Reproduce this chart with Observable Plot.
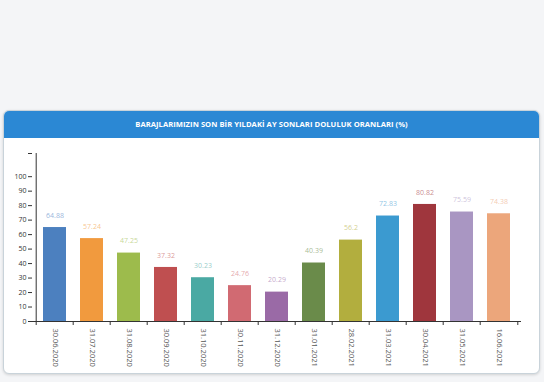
<!DOCTYPE html>
<html><head><meta charset="utf-8">
<script src="https://cdn.jsdelivr.net/npm/d3@7"></script>
<script src="https://cdn.jsdelivr.net/npm/@observablehq/plot@0.6"></script>
<style>
html,body{margin:0;padding:0;}
body{width:544px;height:382px;background:#f4f5f7;position:relative;overflow:hidden;font-family:"Open Sans",sans-serif;}
#panel{position:absolute;left:3px;top:110px;width:535px;height:262px;background:#fff;border:1px solid #c9d3da;border-radius:6px;box-shadow:0 1px 3px rgba(0,0,0,0.15);overflow:hidden;}
#head{height:27px;background:#2b88d4;color:#fff;font-size:7.6px;font-weight:700;text-align:center;line-height:27px;letter-spacing:0.05px;}
#chart{position:absolute;left:0;top:137px;}
</style></head>
<body>
<div id="panel"><div id="head">BARAJLARIMIZIN SON BİR YILDAKİ AY SONLARI DOLULUK ORANLARI (%)</div></div>
<div id="chart"></div>
<script>
const dates = ["30.06.2020","31.07.2020","31.08.2020","30.09.2020","31.10.2020","30.11.2020","31.12.2020","31.01.2021","28.02.2021","31.03.2021","30.04.2021","31.05.2021","16.06.2021"];
const values = [64.88,57.24,47.25,37.32,30.23,24.76,20.29,40.39,56.2,72.83,80.82,75.59,74.38];
const labels = ["64.88","57.24","47.25","37.32","30.23","24.76","20.29","40.39","56.2","72.83","80.82","75.59","74.38"];
const colors = ["#4c80bf","#f19a3e","#9dbb4c","#bf4f50","#4aa9a3","#d16a72","#9a6aa6","#6a8b4a","#b2ae3e","#3b9ad0","#9f363d","#a996c2","#eca67b"];
const yTicks = [0,10,20,30,40,50,60,70,80,90,100];

const data = dates.map((d,i)=>({date:d, value:values[i], label:labels[i], color:colors[i]}));
const W = 544, H = 234, mL = 32, mR = 23;
const step = (W - mL - mR) / dates.length;

const chart = Plot.plot({
  width: W, height: H,
  marginLeft: mL, marginRight: mR, marginTop: 16, marginBottom: 50,
  style: {fontFamily: "Open Sans, sans-serif", fontSize: "7px", color: "#333", background: "transparent"},
  x: {domain: dates, paddingInner: 0.38, paddingOuter: 0.19, axis: null, label: null},
  y: {domain: [0, 116], axis: null, label: null},
  marks: [
    Plot.barY(data, {x: "date", y: "value", fill: "color"}),
    Plot.text(data, {x: "date", y: "value", text: "label", fill: "color", fillOpacity: 0.6, dy: -12, fontSize: 7}),
    Plot.ruleY([0], {stroke: "#333", strokeWidth: 1}),
    Plot.ruleX([dates[0]], {x: d => d, y1: 0, y2: 116, dx: -step/2, stroke: "#333"}),
    Plot.axisY({ticks: [...yTicks, 116], tickFormat: d => d === 116 ? "" : d, tickSize: 4, tickPadding: 2, fontSize: 7, color: "#333", stroke: "#333", label: null}),
    Plot.axisX({ticks: dates, tickFormat: () => "", tickSize: 4, dx: -step/2, stroke: "#333", label: null}),
    Plot.axisX({ticks: [dates[dates.length-1]], tickFormat: () => "", tickSize: 4, dx: step/2, stroke: "#333", label: null}),
    Plot.axisX({ticks: dates, tickSize: 0, tickRotate: 90, textAnchor: "start", tickPadding: 7, fontSize: 7.5, fill: "#555", label: null})
  ]
});
document.getElementById("chart").appendChild(chart);
</script>
</body></html>
